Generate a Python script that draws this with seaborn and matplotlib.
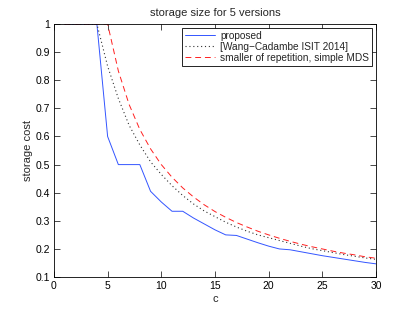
import numpy as np
import pandas as pd
import matplotlib
matplotlib.use("Agg")
import matplotlib.pyplot as plt
import seaborn as sns

c = list(range(1, 31))
proposed = [1, 1, 1, 1, 0.6, 0.5, 0.5, 0.5, 0.405, 0.367, 0.334, 0.334, 0.31, 0.289, 0.268,
            0.25, 0.248, 0.235, 0.222, 0.21, 0.2, 0.197, 0.19, 0.183, 0.176, 0.17, 0.164,
            0.158, 0.152, 0.147]
wang_cadambe = [1, 1, 1, 1, 0.85, 0.735, 0.64, 0.57, 0.51, 0.465, 0.425, 0.39, 0.36, 0.335,
                0.315, 0.295, 0.278, 0.263, 0.25, 0.24, 0.23, 0.22, 0.21, 0.201, 0.194,
                0.187, 0.18, 0.174, 0.168, 0.163]
smaller_rep_mds = [1, 1, 1, 1, 1, 0.833, 0.714, 0.625, 0.556, 0.5, 0.455, 0.417, 0.385,
                   0.357, 0.333, 0.3125, 0.294, 0.278, 0.263, 0.25, 0.238, 0.227, 0.217,
                   0.208, 0.2, 0.192, 0.185, 0.179, 0.172, 0.167]
labels = ["proposed", "[Wang\u2212Cadambe ISIT 2014]", "smaller of repetition, simple MDS"]
xticks = [0, 5, 10, 15, 20, 25, 30]
yticks = [0.1, 0.2, 0.3, 0.4, 0.5, 0.6, 0.7, 0.8, 0.9, 1.0]
ytick_labels = ["0.1", "0.2", "0.3", "0.4", "0.5", "0.6", "0.7", "0.8", "0.9", "1"]

sns.set_style("white")
plt.rcParams['font.family'] = ['Liberation Sans', 'DejaVu Sans']

fig = plt.figure(figsize=(4.15, 3.12), dpi=100)
ax = fig.add_axes([0.130, 0.112, 0.776, 0.811])

df = pd.DataFrame({"c": c, "p": proposed, "w": wang_cadambe, "s": smaller_rep_mds})
sns.lineplot(data=df, x="c", y="p", ax=ax, color="#3355ff", linewidth=0.7,
             label=labels[0], linestyle="-")
sns.lineplot(data=df, x="c", y="w", ax=ax, color="#333333", linewidth=0.8,
             label=labels[1], linestyle=(0, (1, 2.5)))
sns.lineplot(data=df, x="c", y="s", ax=ax, color="#ff2020", linewidth=0.7,
             label=labels[2], linestyle=(0, (6, 4)))

ax.set_xlim(0, 30)
ax.set_ylim(0.1, 1)
ax.set_xticks(xticks)
ax.set_xticklabels([str(t) for t in xticks])
ax.set_yticks(yticks)
ax.set_yticklabels(ytick_labels)
ax.tick_params(direction="in", length=4, width=0.5, labelsize=7.5, top=True, right=True,
               bottom=True, left=True, colors="black", pad=3)
for s in ax.spines.values():
    s.set_visible(True)
    s.set_color("black")
    s.set_linewidth(0.6)

ax.set_title("storage size for 5 versions", fontsize=8, pad=6)
ax.set_xlabel("c", fontsize=8, labelpad=2)
ax.set_ylabel("storage cost", fontsize=8, labelpad=2)

leg = ax.legend(loc="upper right", fontsize=7.3, frameon=True, fancybox=False,
                edgecolor="black", framealpha=1, borderpad=0.3, labelspacing=0.12,
                handlelength=3.0, handletextpad=0.5, borderaxespad=0.35)
leg.get_frame().set_linewidth(0.6)

fig.savefig("out.png", dpi=100, facecolor="white")
